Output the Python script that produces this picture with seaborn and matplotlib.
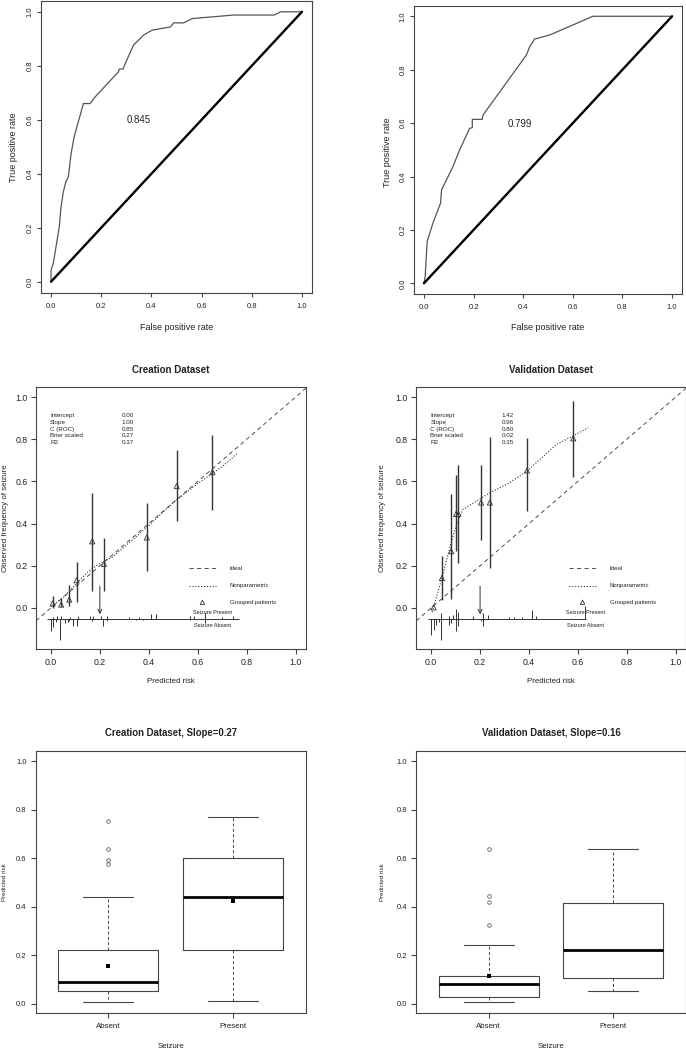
import numpy as np
import pandas as pd
import matplotlib
matplotlib.use("Agg")
import matplotlib.pyplot as plt
import seaborn as sns

# ---------------- data ----------------
# ROC curves
roc_c_fpr = [0, 0, 0.009, 0.033, 0.04, 0.049, 0.059, 0.069, 0.08, 0.092, 0.129, 0.156, 0.176,
             0.269, 0.272, 0.287, 0.296, 0.329, 0.369, 0.403, 0.476, 0.489, 0.529, 0.563,
             0.729, 0.889, 0.916, 1.0]
roc_c_tpr = [0, 0.043, 0.068, 0.204, 0.278, 0.333, 0.37, 0.389, 0.475, 0.537, 0.66, 0.66, 0.685,
             0.778, 0.788, 0.788, 0.809, 0.877, 0.914, 0.932, 0.944, 0.959, 0.959, 0.975,
             0.988, 0.988, 1.0, 1.0]
roc_v_fpr = [0, 0.005, 0.013, 0.036, 0.067, 0.071, 0.117, 0.144, 0.184, 0.195, 0.195, 0.235,
             0.238, 0.413, 0.426, 0.446, 0.46, 0.507, 0.681, 1.0]
roc_v_tpr = [0, 0.025, 0.156, 0.225, 0.30, 0.35, 0.437, 0.50, 0.58, 0.583, 0.614, 0.614,
             0.63, 0.855, 0.886, 0.915, 0.918, 0.93, 1.0, 1.0]
auc_c = "0.845"
auc_v = "0.799"

# Calibration: grouped patients
cal_c_x = [0.007, 0.042, 0.075, 0.105, 0.169, 0.217, 0.392, 0.514, 0.66]
cal_c_y = [0.021, 0.016, 0.04, 0.131, 0.316, 0.209, 0.334, 0.578, 0.644]
cal_c_lo = [0.0, 0.005, 0.008, 0.03, 0.08, 0.079, 0.174, 0.411, 0.465]
cal_c_hi = [0.059, 0.045, 0.11, 0.22, 0.543, 0.332, 0.498, 0.748, 0.82]
cal_v_x = [0.01, 0.044, 0.082, 0.102, 0.111, 0.204, 0.24, 0.392, 0.581]
cal_v_y = [0.003, 0.142, 0.269, 0.446, 0.446, 0.5, 0.5, 0.652, 0.804]
cal_v_lo = [0.0, 0.04, 0.043, 0.269, 0.214, 0.324, 0.19, 0.459, 0.622]
cal_v_hi = [0.0, 0.248, 0.538, 0.628, 0.676, 0.676, 0.81, 0.807, 0.979]

# Calibration: nonparametric curves
np_c_x = [0.003, 0.05, 0.1, 0.15, 0.2, 0.25, 0.3, 0.4, 0.5, 0.6, 0.7, 0.765]
np_c_y = [0.008, 0.05, 0.11, 0.17, 0.212, 0.24, 0.29, 0.39, 0.5, 0.59, 0.67, 0.736]
np_v_x = [0.004, 0.044, 0.082, 0.105, 0.13, 0.204, 0.24, 0.32, 0.392, 0.512, 0.58, 0.642]
np_v_y = [-0.02, 0.142, 0.31, 0.40, 0.467, 0.52, 0.546, 0.593, 0.649, 0.775, 0.815, 0.854]

# Calibration: spike histograms (x position, spike height)
sp_c_pres_x = [0.01, 0.023, 0.041, 0.078, 0.109, 0.16, 0.173, 0.205, 0.228, 0.321, 0.359,
               0.41, 0.43, 0.57, 0.583, 0.631, 0.70, 0.745]
sp_c_pres_h = [0.008, 0.011, 0.014, 0.008, 0.014, 0.011, 0.014, 0.014, 0.011, 0.008, 0.008,
               0.024, 0.024, 0.011, 0.011, 0.027, 0.008, 0.011]
sp_c_abs_x = [0.0, 0.007, 0.02, 0.038, 0.057, 0.068, 0.075, 0.092, 0.105, 0.168, 0.212,
              0.228, 0.348, 0.378, 0.567, 0.631]
sp_c_abs_h = [0.06, 0.04, 0.016, 0.1, 0.02, 0.017, 0.01, 0.036, 0.033, 0.01, 0.033,
              0.01, 0.005, 0.005, 0.005, 0.02]
sp_v_pres_x = [0.042, 0.072, 0.089, 0.1, 0.111, 0.171, 0.212, 0.231, 0.317, 0.339, 0.373,
               0.411, 0.43, 0.63]
sp_v_pres_h = [0.027, 0.014, 0.019, 0.046, 0.03, 0.011, 0.027, 0.019, 0.008, 0.008, 0.008,
               0.04, 0.011, 0.058]
sp_v_abs_x = [0.0, 0.01, 0.02, 0.03, 0.042, 0.072, 0.082, 0.1, 0.111, 0.202, 0.212]
sp_v_abs_h = [0.076, 0.052, 0.028, 0.017, 0.1, 0.028, 0.02, 0.06, 0.036, 0.01, 0.036]
sp_c_range = [-0.014, 0.77]
sp_v_range = [-0.014, 0.635]

stat_names = ["Intercept", "Slope", "C (ROC)", "Brier scaled", "R2"]
stat_c = ["0.00", "1.00", "0.85", "0.27", "0.37"]
stat_v = ["1.42", "0.96", "0.80", "0.02", "0.35"]

# Box plots (five-number summaries)
groups = ["Absent", "Present"]
box_c_whislo = [0.005, 0.01]
box_c_q1 = [0.05, 0.22]
box_c_med = [0.09, 0.44]
box_c_q3 = [0.22, 0.60]
box_c_whishi = [0.44, 0.77]
box_c_fliers = [[0.574, 0.59, 0.639, 0.751], []]
box_c_mean = [0.156, 0.421]
box_v_whislo = [0.005, 0.05]
box_v_q1 = [0.026, 0.105]
box_v_med = [0.08, 0.222]
box_v_q3 = [0.113, 0.415]
box_v_whishi = [0.241, 0.638]
box_v_fliers = [[0.325, 0.417, 0.442, 0.639], []]
box_v_mean = [0.112]

# ---------------- style ----------------
sns.set_theme(style="ticks")
plt.rcParams["font.family"] = ["Liberation Sans", "DejaVu Sans"]
EDGE = "#444444"
plt.rcParams["axes.edgecolor"] = EDGE
plt.rcParams["xtick.color"] = EDGE
plt.rcParams["ytick.color"] = EDGE
plt.rcParams["xtick.labelcolor"] = "#222222"
plt.rcParams["ytick.labelcolor"] = "#222222"

W, H = 686, 1049
fig = plt.figure(figsize=(W / 100, H / 100), dpi=100)
PT = 0.72  # points per pixel


def rect(l, t, r, b):
    return [l / W, 1 - b / H, (r - l) / W, (b - t) / H]


def ftext(x, y, s, **kw):
    kw.setdefault("ha", "center")
    kw.setdefault("va", "center")
    kw.setdefault("color", "#222222")
    fig.text(x / W, 1 - y / H, s, **kw)


def frame(ax):
    for sp in ax.spines.values():
        sp.set_visible(True)
        sp.set_linewidth(0.8)
        sp.set_color(EDGE)


ticks = [0, 0.2, 0.4, 0.6, 0.8, 1.0]
tlabels = ["0.0", "0.2", "0.4", "0.6", "0.8", "1.0"]

# ---------------- ROC panels ----------------
roc_specs = [
    (rect(41, 1, 312, 292.5), roc_c_fpr, roc_c_tpr, auc_c, (0.35, 0.60), 13, 147, 176.5),
    (rect(414, 5.6, 682, 294), roc_v_fpr, roc_v_tpr, auc_v, (0.388, 0.595), 388, 152, 548),
]
for pos, fpr, tpr, auc, aucpos, ylx, yly, xlx in roc_specs:
    ax = fig.add_axes(pos)
    frame(ax)
    sns.lineplot(x=fpr, y=tpr, ax=ax, sort=False, estimator=None, color="#555555", lw=0.9)
    sns.lineplot(x=[0, 1], y=[0, 1], ax=ax, sort=False, estimator=None, color="black", lw=1.7)
    ax.set_xlim(-0.04, 1.04)
    ax.set_ylim(-0.04, 1.04)
    ax.set_xticks(ticks)
    ax.set_xticklabels(tlabels)
    ax.set_yticks(ticks)
    ax.set_yticklabels(tlabels, rotation=90, va="center")
    ax.tick_params(axis="x", length=4 * PT, width=0.8, pad=4.5, labelsize=5.5)
    ax.tick_params(axis="y", length=4 * PT, width=0.8, pad=2.7, labelsize=5.5)
    ax.text(aucpos[0], aucpos[1], auc, fontsize=7, ha="center", va="center", color="#222222")
    ftext(ylx, yly, "True positive rate", rotation=90, fontsize=6.5)
    ftext(xlx, 327, "False positive rate", fontsize=6.5)

# ---------------- Calibration panels ----------------
cal_specs = [
    (rect(36, 387.3, 305.7, 649.3), "Creation Dataset", cal_c_x, cal_c_y, cal_c_lo, cal_c_hi,
     np_c_x, np_c_y, sp_c_pres_x, sp_c_pres_h, sp_c_abs_x, sp_c_abs_h, sp_c_range, stat_c,
     0.66, 5.2, 170.9),
    (rect(416.3, 387.3, 685.7, 649.3), "Validation Dataset", cal_v_x, cal_v_y, cal_v_lo, cal_v_hi,
     np_v_x, np_v_y, sp_v_pres_x, sp_v_pres_h, sp_v_abs_x, sp_v_abs_h, sp_v_range, stat_v,
     0.63, 383, 551),
]
BASE = -0.051
for (pos, title, gx, gy, glo, ghi, nx, ny, px, ph, axs, ah, rng, stats,
     labx, ylx, xcen) in cal_specs:
    ax = fig.add_axes(pos)
    frame(ax)
    ax.set_xlim(-0.0608, 1.0408)
    ax.set_ylim(-0.196, 1.046)
    # ideal line
    ax.axline((0, 0), (1, 1), color="#333333", lw=0.6, linestyle=(0, (5, 4)))
    # nonparametric
    sns.lineplot(x=nx, y=ny, ax=ax, sort=False, estimator=None, color="#333333",
                 lw=0.8, linestyle=(0, (1, 1.6)))
    # grouped patients
    ax.vlines(gx, glo, ghi, color="#333333", lw=1.0)
    sns.scatterplot(x=gx, y=gy, ax=ax, marker="^", s=14, facecolor="none",
                    edgecolor="#333333", linewidth=0.6, zorder=5)
    # spike histogram
    ax.hlines(BASE, rng[0], rng[1], color="#333333", lw=0.7)
    ax.vlines(px, BASE, BASE + np.array(ph), color="#333333", lw=0.7)
    ax.vlines(axs, BASE - np.array(ah), BASE, color="#333333", lw=0.7)
    ax.annotate("", xy=(0.2, -0.03), xytext=(0.2, 0.103),
                arrowprops=dict(arrowstyle="->", color="#333333", lw=0.7,
                                shrinkA=0, shrinkB=0, mutation_scale=7))
    ax.text(labx, -0.021, "Seizure Present", fontsize=4.0, ha="center", va="center",
            color="#222222")
    ax.text(labx, -0.082, "Seizure Absent", fontsize=4.0, ha="center", va="center",
            color="#222222")
    # legend
    ax.plot([0.564, 0.673], [0.188, 0.188], color="#333333", lw=0.6, linestyle=(0, (5, 4)))
    ax.plot([0.564, 0.673], [0.106, 0.106], color="#333333", lw=0.8, linestyle=(0, (1, 1.6)))
    ax.scatter([0.619], [0.027], marker="^", s=10, facecolor="none", edgecolor="#333333",
               linewidth=0.6)
    for yy, lab in zip([0.188, 0.106, 0.027], ["Ideal", "Nonparametric", "Grouped patients"]):
        ax.text(0.731, yy, lab, fontsize=4.3, ha="left", va="center", color="#222222")
    # stats
    for i, (nm, val) in enumerate(zip(stat_names, stats)):
        yy = 0.913 - i * 0.0325
        ax.text(-0.003, yy, nm, fontsize=4.5, ha="left", va="center", color="#222222")
        ax.text(0.288, yy, val, fontsize=4.5, ha="left", va="center", color="#222222")
    ax.set_xticks(ticks)
    ax.set_xticklabels(tlabels)
    ax.set_yticks(ticks)
    ax.set_yticklabels(tlabels)
    ax.tick_params(axis="x", length=5 * PT, width=0.8, pad=3.0, labelsize=6.3)
    ax.tick_params(axis="y", length=5 * PT, width=0.8, pad=2.6, labelsize=6.3)
    ax.set_xlabel("")
    ax.set_ylabel("")
    ftext(xcen, 370, title, fontsize=7, fontweight="bold")
    ftext(xcen, 681.7, "Predicted risk", fontsize=5.7)
    ftext(ylx, 518.3, "Observed frequency of seizure", rotation=90, fontsize=5.7)

# ---------------- Box plots ----------------
box_specs = [
    (rect(36, 751.3, 305.7, 1013.3), "Creation Dataset, Slope=0.27",
     box_c_whislo, box_c_q1, box_c_med, box_c_q3, box_c_whishi, box_c_fliers, box_c_mean,
     4.5, 170.9),
    (rect(416.3, 751.3, 685.7, 1013.3), "Validation Dataset, Slope=0.16",
     box_v_whislo, box_v_q1, box_v_med, box_v_q3, box_v_whishi, box_v_fliers, box_v_mean,
     383, 551),
]
for pos, title, wl, q1, md, q3, wh, fl, mn, ylx, xcen in box_specs:
    ax = fig.add_axes(pos)
    frame(ax)
    stats = [dict(label=g, whislo=a, q1=b, med=c, q3=d, whishi=e, fliers=f)
             for g, a, b, c, d, e, f in zip(groups, wl, q1, md, q3, wh, fl)]
    ax.bxp(stats, positions=[1, 2], widths=0.8, capwidths=0.4, showfliers=True,
           boxprops=dict(color="#444444", lw=0.8),
           whiskerprops=dict(color="#444444", lw=0.7, linestyle=(0, (3, 2.5))),
           capprops=dict(color="#444444", lw=0.8),
           medianprops=dict(color="black", lw=2.0),
           flierprops=dict(marker="o", markersize=2.6, markerfacecolor="none",
                           markeredgecolor="#444444", markeredgewidth=0.5))
    sns.scatterplot(x=[1, 2][:len(mn)], y=mn, ax=ax, marker="s", s=9, color="black",
                    edgecolor="black", linewidth=0, zorder=6)
    ax.set_xlim(0.42, 2.58)
    ax.set_ylim(-0.04, 1.04)
    ax.set_xticks([1, 2])
    ax.set_xticklabels(groups)
    ax.set_yticks(ticks)
    ax.set_yticklabels(tlabels)
    ax.tick_params(axis="x", length=5 * PT, width=0.8, pad=3.3, labelsize=5.7)
    ax.tick_params(axis="y", length=5 * PT, width=0.8, pad=3.2, labelsize=5.5)
    ax.set_xlabel("")
    ax.set_ylabel("")
    ftext(xcen, 733, title, fontsize=6.9, fontweight="bold")
    ftext(xcen, 1046, "Seizure", fontsize=5.7)
    ftext(ylx, 882.3, "Predicted risk", rotation=90, fontsize=4.5)

fig.savefig("out.png", dpi=100)
